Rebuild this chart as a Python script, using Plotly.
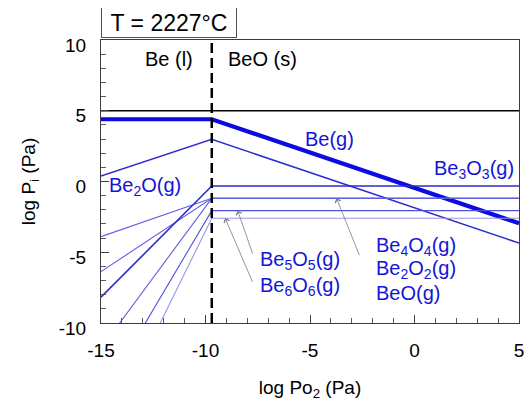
import plotly.graph_objects as go

# ---- data ----
x_min = -15.0
x_boundary = -9.7   # Be(l) / BeO(s) boundary
x_max = 5.0

species = ["Be", "Be2O", "BeO", "Be2O2", "Be3O3", "Be4O4", "Be5O5", "Be6O6"]
logp_at_xmin = [4.4, 0.39, -3.9, -6.37, -8.18, -11.79, -15.3, -18.5]
logp_at_boundary = [4.4, 2.98, -1.19, -1.19, -0.32, -1.19, -2.06, -2.6]
logp_at_xmax = [-2.95, -4.35, -1.19, -1.19, -0.32, -1.19, -2.06, -2.6]

total_pressure_log = 5.0  # 1 atm reference line

x_ticks = [-15, -10, -5, 0, 5]
x_tick_text = ["-15", "-10", "-5", "0", "5"]
y_ticks = [-10, -5, 0, 5, 10]
y_tick_text = ["-10", "-5", "0", "5", "10"]

# ---- styles ----
styles = {
    "Be": dict(color="rgb(10,10,225)", width=4.2),
    "Be2O": dict(color="rgb(45,45,205)", width=1.5),
    "BeO": dict(color="rgb(95,95,225)", width=1.1),
    "Be2O2": dict(color="rgb(95,95,225)", width=1.1),
    "Be3O3": dict(color="rgb(45,45,205)", width=1.6),
    "Be4O4": dict(color="rgb(95,95,225)", width=1.1),
    "Be5O5": dict(color="rgb(80,80,220)", width=1.1),
    "Be6O6": dict(color="rgb(150,150,235)", width=1.1),
}

FONT = "Liberation Sans, Arial, Helvetica, sans-serif"
BLUE = "rgb(20,20,215)"

fig = go.Figure()

for name, y0, yb, y1 in zip(species, logp_at_xmin, logp_at_boundary, logp_at_xmax):
    fig.add_trace(go.Scatter(
        x=[x_min, x_boundary, x_max], y=[y0, yb, y1],
        mode="lines", line=styles[name], showlegend=False, hoverinfo="skip"))

# total pressure line
fig.add_trace(go.Scatter(
    x=[x_min, x_max], y=[total_pressure_log, total_pressure_log],
    mode="lines", line=dict(color="black", width=1.3), showlegend=False))

# phase boundary
fig.add_trace(go.Scatter(
    x=[x_boundary, x_boundary], y=[-10, 10],
    mode="lines", line=dict(color="black", width=2.5, dash="10px,5px"),
    showlegend=False))

annotations = [
    dict(x=-11.74, y=8.66, text="Be (l)", font=dict(size=20, color="black")),
    dict(x=-7.25, y=8.66, text="BeO (s)", font=dict(size=20, color="black")),
    dict(x=-4.08, y=3.0, text="Be(g)", font=dict(size=20, color=BLUE)),
    dict(x=4.85, y=0.88, text="Be<sub>3</sub>O<sub>3</sub>(g)", xanchor="right",
         font=dict(size=20, color=BLUE)),
    dict(x=-14.7, y=-0.37, text="Be<sub>2</sub>O(g)", xanchor="left",
         font=dict(size=20, color=BLUE)),
    dict(x=-1.95, y=-4.6, text="Be<sub>4</sub>O<sub>4</sub>(g)", xanchor="left",
         font=dict(size=20, color=BLUE)),
    dict(x=-1.95, y=-6.25, text="Be<sub>2</sub>O<sub>2</sub>(g)", xanchor="left",
         font=dict(size=20, color=BLUE)),
    dict(x=-1.95, y=-7.9, text="BeO(g)", xanchor="left",
         font=dict(size=20, color=BLUE)),
    dict(x=-7.5, y=-5.55, text="Be<sub>5</sub>O<sub>5</sub>(g)", xanchor="left",
         font=dict(size=20, color=BLUE)),
    dict(x=-7.5, y=-7.43, text="Be<sub>6</sub>O<sub>6</sub>(g)", xanchor="left",
         font=dict(size=20, color=BLUE)),
]
for a in annotations:
    a.setdefault("xanchor", "center")
    a.update(xref="x", yref="y", showarrow=False, yanchor="middle")
    a["font"]["family"] = FONT
    fig.add_annotation(**a)

# arrows (tail -> head)
arrows = [
    ((-2.61, -5.31), (-3.73, -1.19)),
    ((-7.72, -5.2), (-8.46, -2.06)),
    ((-7.72, -7.2), (-9.06, -2.6)),
]
for (tx, ty), (hx, hy) in arrows:
    fig.add_annotation(x=hx, y=hy, ax=tx, ay=ty, xref="x", yref="y",
                       axref="x", ayref="y", text="", showarrow=True,
                       arrowhead=4, arrowsize=1.4, arrowwidth=0.8,
                       arrowcolor="rgb(120,120,120)")

# temperature box
fig.add_annotation(x=0, y=1, xref="paper", yref="paper", xanchor="left",
                   yanchor="bottom", yshift=2, text="T = 2227°C", showarrow=False,
                   font=dict(family=FONT, size=23, color="black"),
                   width=132, height=27,
                   bordercolor="rgb(80,80,80)", borderwidth=1, borderpad=1,
                   bgcolor="white")

axis_common = dict(
    showgrid=False, zeroline=False, showline=True, linecolor="rgb(60,60,60)",
    linewidth=1, mirror=True, ticks="inside", ticklen=8, tickwidth=1,
    tickcolor="rgb(60,60,60)",
    tickfont=dict(family=FONT, size=19, color="black"),
    minor=dict(ticks="inside", ticklen=5, dtick=1, tickcolor="rgb(90,90,90)"),
)

# page body has an 8px margin, so the figure is sized/offset to compensate
fig.update_layout(
    width=524, height=398,
    margin=dict(l=93, r=8, t=32, b=83),
    plot_bgcolor="white", paper_bgcolor="white",
    font=dict(family=FONT, color="black"),
    xaxis=dict(range=[x_min, x_max], tickvals=x_ticks, ticktext=x_tick_text,
               ticklabelstandoff=10, ticklabeloverflow="allow",
               title=dict(text="log Po<sub>2</sub> (Pa)", standoff=20,
                          font=dict(family=FONT, size=19)),
               **axis_common),
    yaxis=dict(range=[-10, 10], tickvals=y_ticks, ticktext=y_tick_text,
               ticklabelstandoff=10, ticklabelshift=5,
               title=dict(text="log P<sub>i</sub> (Pa)", standoff=18,
                          font=dict(family=FONT, size=19)),
               **axis_common),
)

fig.write_html("out.html")
